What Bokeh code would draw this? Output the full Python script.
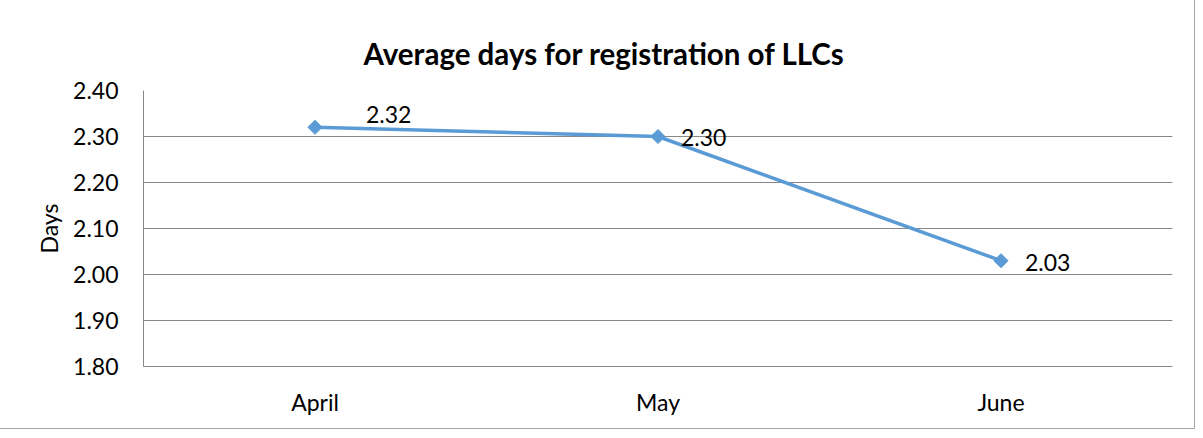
from bokeh.plotting import figure
from bokeh.models import ColumnDataSource, FixedTicker, Title, NumeralTickFormatter
from bokeh.core.properties import value
from bokeh.embed import file_html
from bokeh.resources import INLINE

months = ["April", "May", "June"]
days = [2.32, 2.30, 2.03]
labels = ["2.32", "2.30", "2.03"]
y_ticks = [1.8, 1.9, 2.0, 2.1, 2.2, 2.3, 2.4]
title_text = "Average days for registration of LLCs"

# label style offsets (pixels)
lab_dx = [51, 23, 24]
lab_dy = [-13, 1, 2]

FONT = "Lato"
BLUE = "#5B9BD5"
GRID = "#888888"

src = ColumnDataSource(dict(m=months, d=days, t=labels, dx=lab_dx, dy=lab_dy))

p = figure(x_range=months, y_range=(1.8, 2.4), frame_width=1029, frame_height=276,
           output_backend="svg", toolbar_location=None,
           min_border_left=146, min_border_right=22, min_border_top=93, min_border_bottom=62)
p.title = None
p.add_layout(Title(text=title_text, align="left", offset=220, standoff=40,
                   text_font=FONT, text_font_size="29.5px", text_font_style="bold",
                   text_color="#000000"), "above")
# invisible spacer between the title and the frame
p.add_layout(Title(text=" ", text_font_size="1px", standoff=15, text_alpha=0), "above")

p.styles = {"border": "1px solid #A6A6A6", "margin-left": "-4px", "margin-top": "-4px"}
p.outline_line_color = None
p.background_fill_color = "white"
p.border_fill_color = "white"

p.xgrid.grid_line_color = None
p.ygrid.grid_line_color = GRID
p.ygrid.grid_line_width = 1

p.yaxis.ticker = FixedTicker(ticks=y_ticks)
p.yaxis.formatter = NumeralTickFormatter(format="0.00")
for ax in (p.xaxis, p.yaxis):
    ax.axis_line_color = GRID
    ax.major_tick_line_color = None
    ax.minor_tick_line_color = None
    ax.major_tick_out = 0
    ax.major_tick_in = 0
    ax.major_label_text_font = FONT
    ax.major_label_text_font_size = "23px"
    ax.major_label_text_color = "#000000"
p.yaxis.major_label_standoff = 25
p.xaxis.major_label_standoff = 21
p.yaxis.axis_label = "Days"
p.yaxis.axis_label_text_font = FONT
p.yaxis.axis_label_text_font_size = "23px"
p.yaxis.axis_label_text_font_style = "normal"
p.yaxis.axis_label_text_color = "#000000"
p.yaxis.axis_label_standoff = 7

p.line("m", "d", source=src, line_color=BLUE, line_width=3.5)
p.scatter("m", "d", source=src, marker="square", size=10, angle=0.785398,
          fill_color=BLUE, line_color=BLUE)
p.text("m", "d", text="t", source=src, x_offset="dx", y_offset="dy",
       text_font=value(FONT), text_font_size="23px", text_baseline="middle",
       text_align="left", text_color="#000000")

open("out.html", "w").write(file_html(p, INLINE))
